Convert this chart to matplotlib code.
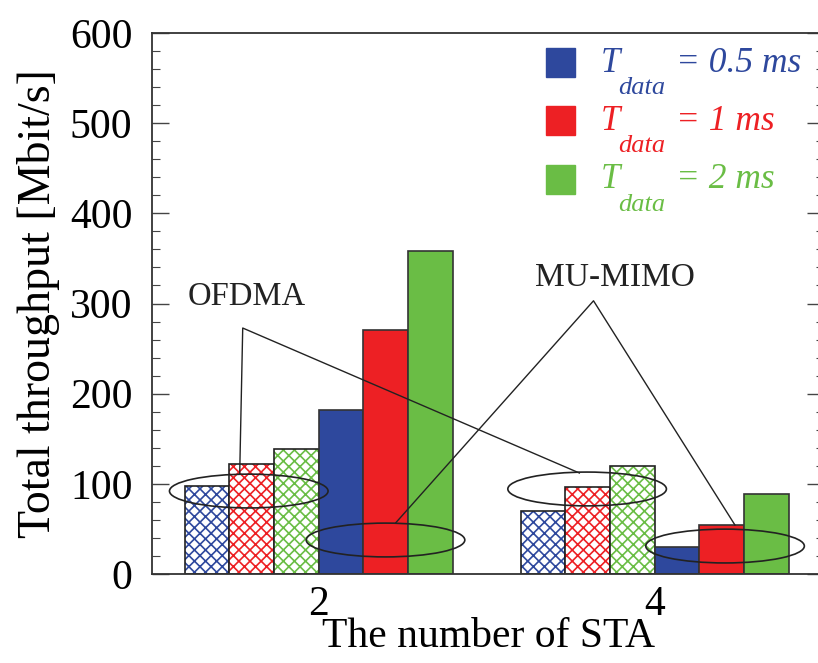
import numpy as np
import matplotlib
matplotlib.use('Agg')
import matplotlib.pyplot as plt
from matplotlib.patches import Ellipse, Rectangle

plt.rcParams['font.family'] = ['Liberation Serif', 'DejaVu Serif']
plt.rcParams['hatch.linewidth'] = 1.2

# Data
groups = ['2', '4']
series = ['0.5', '1', '2']
colors = ['#2E489D', '#ED2024', '#6ABD45']
ofdma = {
    '0.5': [97.6, 70.2],
    '1': [122.0, 96.8],
    '2': [138.6, 120.0],
}
mumimo = {
    '0.5': [182.0, 30.3],
    '1': [271.0, 53.9],
    '2': [358.5, 88.4],
}

fig = plt.figure(figsize=(8.18, 6.63), dpi=100)
ax = fig.add_axes([152 / 818, 89 / 663, (824 - 152) / 818, (574 - 33) / 663])

x = np.arange(len(groups))
w = 0.1328
offsets = (np.arange(6) - 2.5) * w

# hatched OFDMA bars
for i, s in enumerate(series):
    ax.bar(x + offsets[i], ofdma[s], w, color='white', edgecolor=colors[i],
           hatch='xxx', linewidth=0)
    ax.bar(x + offsets[i], ofdma[s], w, fill=False, edgecolor='#222222', linewidth=1.2)
# solid MU-MIMO bars
for i, s in enumerate(series):
    ax.bar(x + offsets[i + 3], mumimo[s], w, color=colors[i], edgecolor='#333333',
           linewidth=1.2)

ax.set_xlim(-0.496, 1.504)
ax.set_ylim(0, 600)
ax.set_xticks(x)
ax.set_xticklabels(groups)
ax.set_yticks(np.arange(0, 601, 100))
ax.set_yticks(np.arange(0, 601, 20), minor=True)
ax.tick_params(axis='y', which='major', direction='in', length=12, width=1,
               labelsize=30, pad=14, right=True, color='#444444')
ax.tick_params(axis='y', which='minor', direction='in', length=6, width=0.8,
               right=True, color='#444444')
ax.tick_params(axis='x', length=0, labelsize=30, pad=8)
for sp in ax.spines.values():
    sp.set_color('#333333')
    sp.set_linewidth(1.3)

ax.set_xlabel('The number of STA', fontsize=30)
ax.xaxis.set_label_coords(0.5, -0.08)
ax.set_ylabel('Total throughput [Mbit/s]', fontsize=33)
ax.yaxis.set_label_coords(-0.137, 0.5)

# annotations
ell = [(-0.208, 92), (0.199, 37.7), (0.799, 94.3), (1.2095, 31)]
for cx, cy in ell:
    ax.add_patch(Ellipse((cx, cy), 0.472, 37.5, fill=False, edgecolor='#222222',
                         linewidth=1.2, zorder=5))
ax.plot([-0.235, -0.226, 0.776], [110.9, 272.8, 112], color='#222222', lw=1.0, zorder=5)
ax.plot([0.229, 0.818, 1.239], [56.6, 303, 54.3], color='#222222', lw=1.0, zorder=5)
ax.text(-0.214, 307, 'OFDMA', fontsize=23.5, ha='center', va='center', color='#222222')
ax.text(0.883, 329, 'MU-MIMO', fontsize=24, ha='center', va='center', color='#222222')

# legend
rows = [62.5, 120.5, 179]
for i, s in enumerate(series):
    py = rows[i]
    fig.patches.append(Rectangle((546 / 818, 1 - (py + 14.5) / 663), 29 / 818, 29 / 663,
                                 transform=fig.transFigure, color=colors[i]))
    fig.text(601 / 818, 1 - (py + 1) / 663, 'T', fontsize=25, style='italic',
             color=colors[i], ha='left', va='center')
    fig.text(618 / 818, 1 - (py + 26) / 663, 'data', fontsize=19, style='italic',
             color=colors[i], ha='left', va='center')
    fig.text(676 / 818, 1 - (py + 1) / 663, '= ' + s + ' ms', fontsize=25.5, style='italic',
             color=colors[i], ha='left', va='center')

fig.savefig('out.png', dpi=100)
